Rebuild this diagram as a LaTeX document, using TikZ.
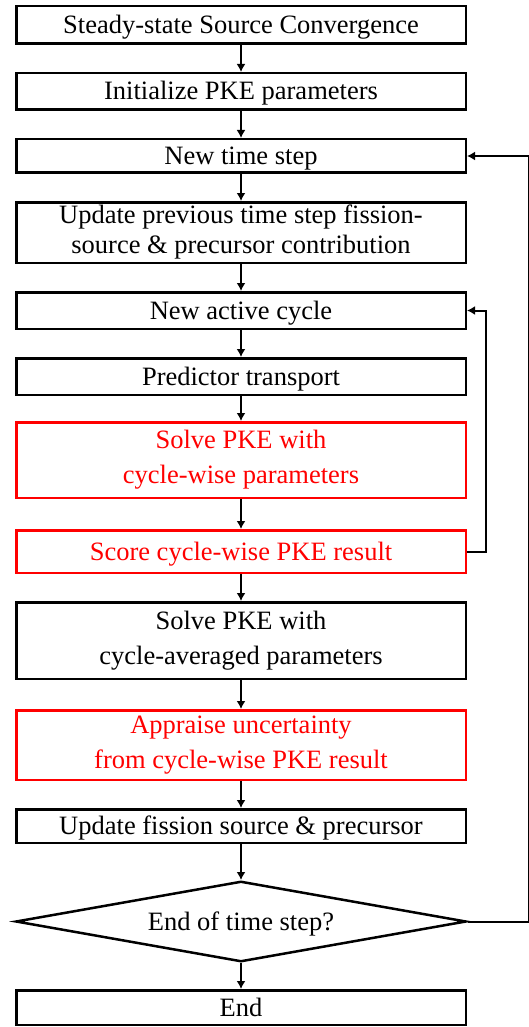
\documentclass[tikz,border=0pt]{standalone}
\usepackage{fontspec}
\setmainfont{Liberation Serif}
\usetikzlibrary{positioning, arrows.meta}
\usetikzlibrary{shapes.geometric}

\begin{document}
\begin{tikzpicture}[x=1pt,y=1pt,>={Latex[length=8pt,width=9pt]},node distance=27pt,
	every node/.style={font=\fontsize{26.5}{35}\selectfont,
		execute at begin node={\rule{0pt}{23pt}},execute at end node={\rule[-6pt]{0pt}{6pt}}},
	box/.style={shape=rectangle,draw,line width=2.5pt,minimum width=449.5pt,inner sep=0pt,align=center},
	redbox/.style={box,draw=red,text=red},
	decide/.style={shape=diamond,draw,line width=2.5pt,aspect=5.4,inner sep=0pt,minimum width=450.5pt,minimum height=80.5pt},
	link/.style={->,line width=2pt}]
	\useasboundingbox (0,0) rectangle (529,-1027);
	    % create the nodes
		    \node[box,minimum height=37.5pt] (ssc) at (241,-25) {Steady-state Source Convergence};
		    \node[box,minimum height=36.5pt] (init)[below =of ssc] {Initialize PKE parameters};
		    \node[box,minimum height=33.5pt] (step)[below =of init] {New time step};
		    \node[box,minimum height=60.5pt,font=\fontsize{26.5}{30}\selectfont] (prev)[below =of step] {Update previous time step fission-\\source \& precursor contribution};
		    \node[box,minimum height=36.5pt] (active)[below =of prev] {New active cycle};
		    \node[box,minimum height=36.5pt] (pred)[below =of active] {Predictor transport};
		    \node[redbox,minimum height=75.5pt] (pkecw)[below =25pt of pred] {Solve PKE with\\cycle-wise parameters}; %per cycle
		    \node[redbox,minimum height=42.5pt] (score)[below =30pt of pkecw] {Score cycle-wise PKE result};
		    \node[box,minimum height=76.5pt] (pkeavg)[below =of score] {Solve PKE with\\cycle-averaged parameters};
		    \node[redbox,minimum height=69.5pt] (unc)[below =29pt of pkeavg] {Appraise uncertainty\\from cycle-wise PKE result};
		    \node[box,minimum height=33.5pt] (upd)[below =of unc] {Update fission source \& precursor};
		    \node[decide] (dec)[below =36pt of upd] {End of time step?};
		    \node[box,minimum height=34.5pt] (end)[below =26pt of dec] {End};
	    % connect them
		    \foreach \a/\b in {ssc/init,init/step,step/prev,prev/active,active/pred,pred/pkecw,pkecw/score,score/pkeavg,pkeavg/unc,unc/upd,upd/dec,dec/end}
		        \draw[link] (\a) -- (\b);
		    \draw[link] (score.east) -- ++(19,0) |- (active.east); %cycle loop
		    \draw[link] (dec.east) -- ++(61,0) |- (step.east); %time step loop
\end{tikzpicture}
\end{document}
